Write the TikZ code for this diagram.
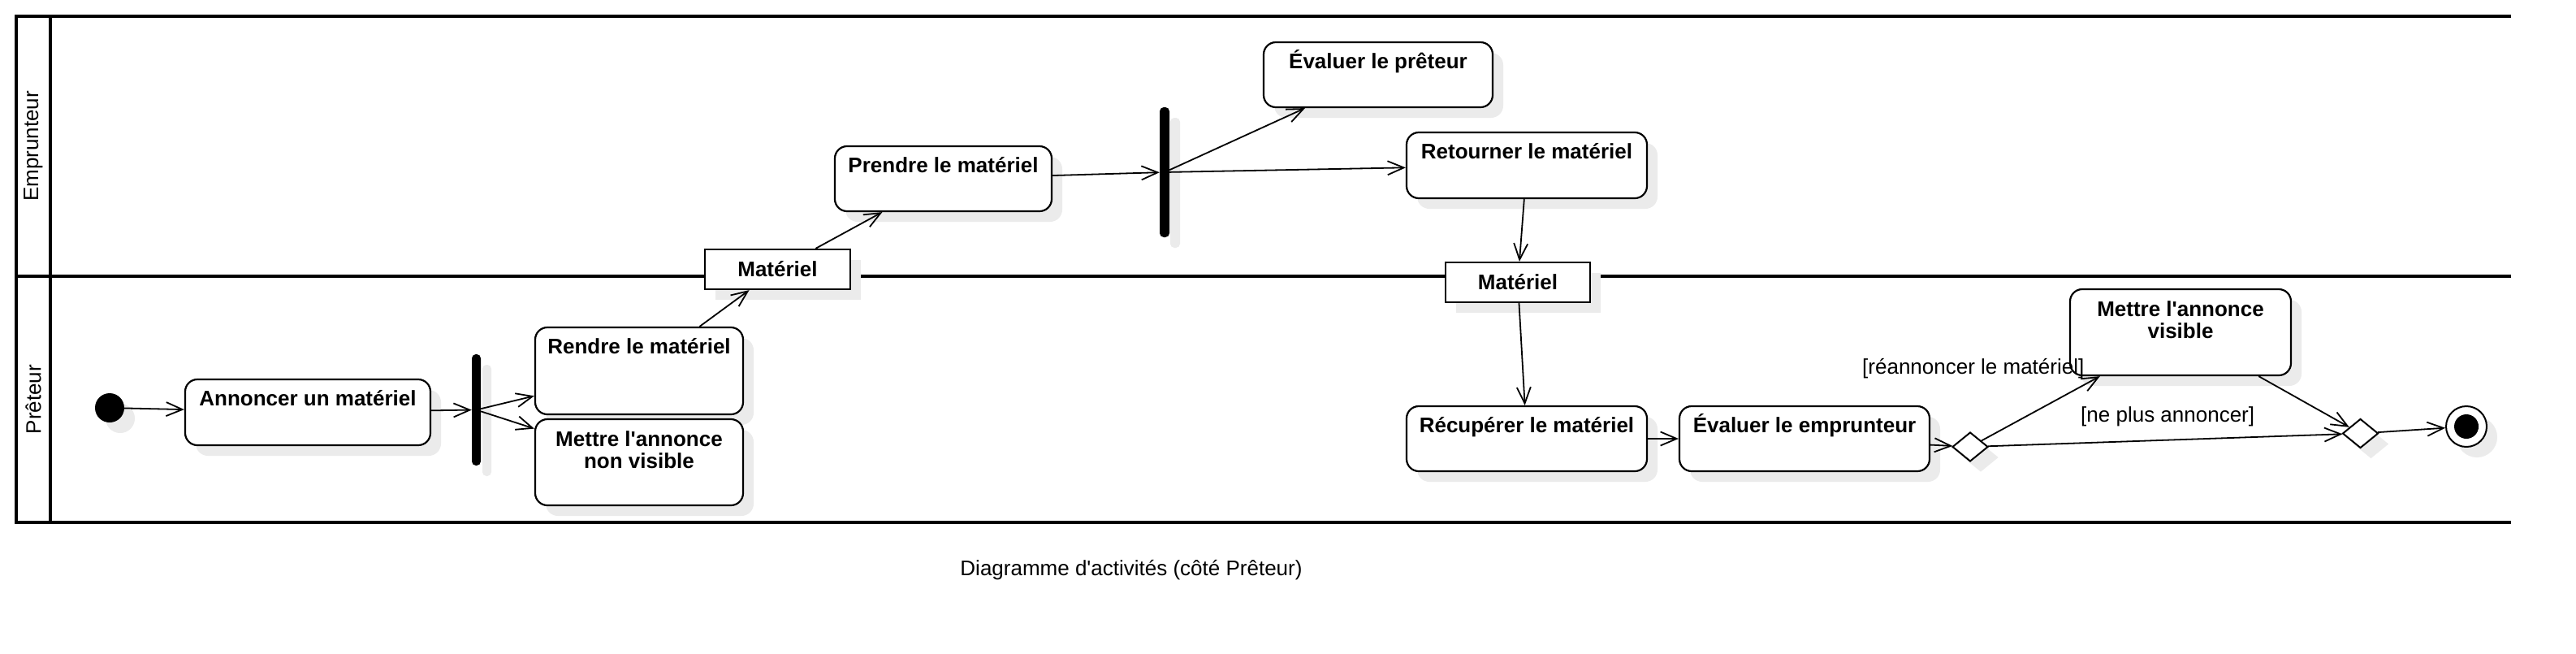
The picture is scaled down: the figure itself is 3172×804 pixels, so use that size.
\documentclass[tikz,border=0pt]{standalone}
\usepackage{fontspec}
\newfontfamily\lsans{Liberation Sans}
\usetikzlibrary{arrows.meta,shapes.geometric,shadows}
\begin{document}
\begin{tikzpicture}[x=1pt,y=-1pt,
  font=\lsans\fontsize{26}{27}\selectfont,
  shad/.style={drop shadow={shadow xshift=13pt, shadow yshift=-13pt, fill=black!8, opacity=1}},
  act/.style={draw, line width=2.2pt, rounded corners=15pt, fill=white, shad, inner sep=0pt},
  obj/.style={draw, line width=2.2pt, fill=white, shad, inner sep=0pt, font=\lsans\bfseries\fontsize{26}{27}\selectfont},
  forkbar/.style={fill=black, rounded corners=5pt, inner sep=0pt, shad},
  dec/.style={draw, diamond, line width=2pt, fill=white, shad, inner sep=0pt, minimum width=44pt, minimum height=36pt},
  lbl/.style={font=\lsans\bfseries\fontsize{26}{27}\selectfont, inner sep=0pt, align=center},
  flow/.style={line width=1.8pt, -{Straight Barb[length=20pt,width=17pt]}},
  lane/.style={line width=4pt},
  guard/.style={inner sep=0pt, anchor=base west},
]
\useasboundingbox (0,0) rectangle (3172,804);
\fill[white] (0,0) rectangle (3172,804);

% swimlane frame
\draw[lane] (3091.5,20) -- (20,20) -- (20,643) -- (3091.5,643);
\draw[lane] (20,340) -- (3091.5,340);
\draw[lane] (62,20) -- (62,643);
\node[rotate=90] (ln1) at (41,180) {Emprunteur};
\node[rotate=90] (ln2) at (41,491.5) {Prêteur};

% nodes
\node[circle, fill=black, minimum size=36pt, inner sep=0pt, shad] (init) at (135,502) {};
\node[act, minimum width=302pt, minimum height=81pt,
  label={[lbl, anchor=base, yshift=-33.5pt]north:Annoncer un matériel}] (a1) at (379,507.5) {};
\node[forkbar, minimum width=11pt, minimum height=137pt] (f1) at (586.5,504.5) {};
\node[act, minimum width=256pt, minimum height=107pt,
  label={[lbl, anchor=base, yshift=-33.5pt]north:Rendre le matériel}] (a2) at (787,456.5) {};
\node[act, minimum width=256pt, minimum height=106pt,
  label={[lbl, anchor=north, yshift=-15.5pt]north:Mettre l'annonce\\non visible}] (a3) at (787,569) {};
\node[obj, minimum width=179pt, minimum height=49pt] (o1) at (957.5,331.5) {Matériel};
\node[act, minimum width=267pt, minimum height=80pt,
  label={[lbl, anchor=base, yshift=-33.5pt]north:Prendre le matériel}] (a4) at (1161.5,220) {};
\node[forkbar, minimum width=12pt, minimum height=160pt] (f2) at (1434,212) {};
\node[act, minimum width=282pt, minimum height=80pt,
  label={[lbl, anchor=base, yshift=-33.5pt]north:Évaluer le prêteur}] (a5) at (1697,92) {};
\node[act, minimum width=296pt, minimum height=81pt,
  label={[lbl, anchor=base, yshift=-33.5pt]north:Retourner le matériel}] (a6) at (1880,203.5) {};
\node[obj, minimum width=178pt, minimum height=49pt] (o2) at (1869,347.5) {Matériel};
\node[act, minimum width=296pt, minimum height=80pt,
  label={[lbl, anchor=base, yshift=-33.5pt]north:Récupérer le matériel}] (a7) at (1880,540) {};
\node[act, minimum width=308pt, minimum height=80pt,
  label={[lbl, anchor=base, yshift=-33.5pt]north:Évaluer le emprunteur}] (a8) at (2222,540) {};
\node[dec] (d1) at (2426,550) {};
\node[act, minimum width=272pt, minimum height=106pt,
  label={[lbl, anchor=north, yshift=-15.5pt]north:Mettre l'annonce\\visible}] (a9) at (2685,409) {};
\node[dec] (d2) at (2906.5,533.5) {};
\node[circle, draw, line width=2pt, fill=white, minimum size=50pt, inner sep=0pt, shad] (fin) at (3037,525) {};
\node[circle, fill=black, minimum size=30pt, inner sep=0pt] (finc) at (fin.center) {};

% guards
\node[guard] (g1) at (2293,460) {[réannoncer le matériel]};
\node[guard] (g2) at (2562,519) {[ne plus annoncer]};

% flows
\draw[flow] (init) -- (a1);
\draw[flow] (a1) -- (f1);
\draw[flow] (f1) -- (a2);
\draw[flow] (f1) -- (a3);
\draw[flow] (a2) -- (o1);
\draw[flow] (o1) -- (a4);
\draw[flow] (a4) -- (f2);
\draw[flow] (f2) -- (a5);
\draw[flow] (f2) -- (a6);
\draw[flow] (a6) -- (o2);
\draw[flow] (o2) -- (a7);
\draw[flow] (a7) -- (a8);
\draw[flow] (a8) -- (d1);
\draw[flow] (d1) -- (a9);
\draw[flow] (d1) -- (d2);
\draw[flow] (a9) -- (d2);
\draw[flow] (d2) -- (fin);

% caption
\node[anchor=base] (cap) at (1393,708) {Diagramme d'activités (côté Prêteur)};
\end{tikzpicture}
\end{document}
